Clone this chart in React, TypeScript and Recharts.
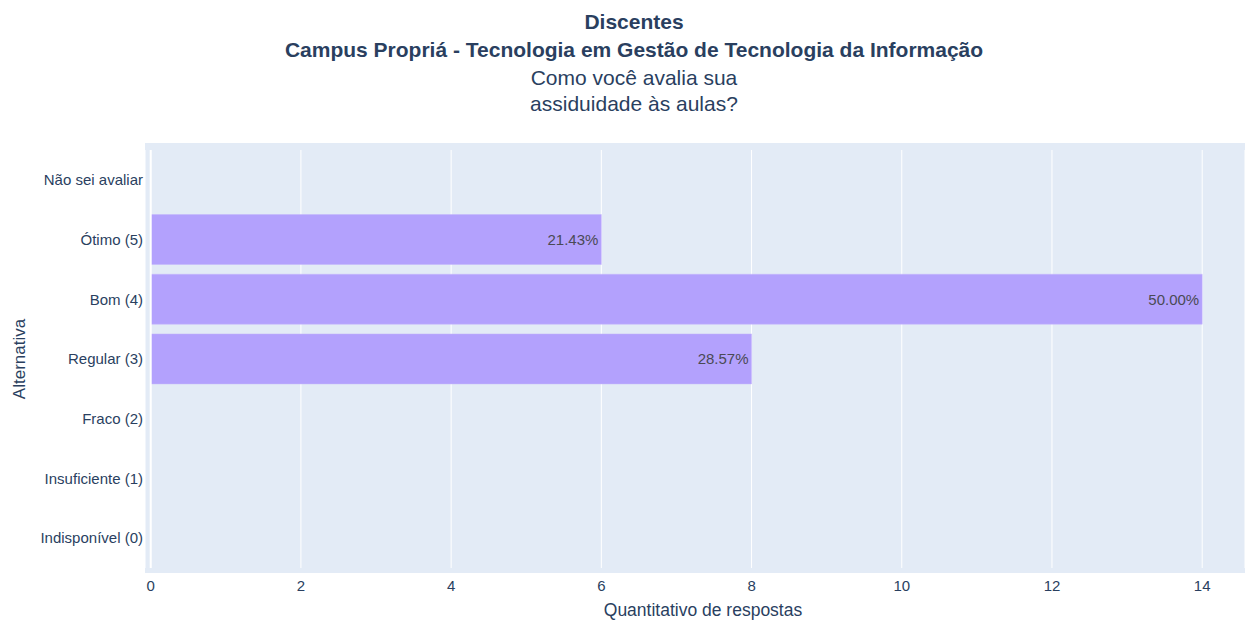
import React from "react";
import {
  BarChart,
  Bar,
  XAxis,
  YAxis,
  CartesianGrid,
  ReferenceLine,
  LabelList,
} from "recharts";

const categories = [
  "Não sei avaliar",
  "Ótimo (5)",
  "Bom (4)",
  "Regular (3)",
  "Fraco (2)",
  "Insuficiente (1)",
  "Indisponível (0)",
];
const counts = [0, 6, 14, 8, 0, 0, 0];
const xTicks = [0, 2, 4, 6, 8, 10, 12, 14];
const titleLines = [
  "Discentes",
  "Campus Propriá - Tecnologia em Gestão de Tecnologia da Informação",
];
const subtitleLines = ["Como você avalia sua", "assiduidade às aulas?"];

const FONT = '"Liberation Sans", Arial, sans-serif';
const TEXT = "#2a3f5f";
const BAR = "#b3a1fd";

const total = counts.reduce((a, b) => a + b, 0);
const data = categories.map((name, i) => ({
  name,
  value: counts[i],
  pct: counts[i] ? ((counts[i] / total) * 100).toFixed(2) + "%" : "",
}));

// zero bars are skipped by LabelList, so go by the value itself
function PctLabel(props: any) {
  const { x, y, width, height, value } = props;
  if (!value) return null;
  return (
    <text
      x={x + width - 3}
      y={y + height / 2}
      textAnchor="end"
      dominantBaseline="central"
      fontSize={15}
      fontFamily={FONT}
      fill="#4a4a55"
    >
      {value}
    </text>
  );
}

export default function App() {
  return (
    <div
      style={{
        position: "absolute",
        left: 0,
        top: 0,
        width: 1247,
        height: 622,
        background: "#fff",
        fontFamily: FONT,
        color: TEXT,
      }}
    >
      {/* plot background, a bit larger than the drawing area */}
      <div
        style={{
          position: "absolute",
          left: 145,
          top: 143,
          width: 1100,
          height: 430,
          background: "#e3ebf6",
        }}
      />
      {titleLines.map((t, i) => (
        <div
          key={t}
          style={{
            position: "absolute",
            left: 0,
            width: 1268,
            textAlign: "center",
            top: [9, 37][i],
            fontSize: 21,
            fontWeight: 700,
            lineHeight: "26px",
          }}
        >
          {t}
        </div>
      ))}
      {subtitleLines.map((t, i) => (
        <div
          key={t}
          style={{
            position: "absolute",
            left: 0,
            width: 1268,
            textAlign: "center",
            top: [65, 91][i],
            fontSize: 21,
            lineHeight: "26px",
          }}
        >
          {t}
        </div>
      ))}
      <div style={{ position: "absolute", left: 0, top: 0 }}>
        <BarChart
          width={1247}
          height={622}
          data={data}
          layout="vertical"
          margin={{ top: 150, right: 2, bottom: 0, left: 5 }}
          barCategoryGap="8%"
        >
          <CartesianGrid horizontal={false} stroke="#fff" strokeWidth={1} />
          <XAxis
            type="number"
            domain={[-0.076, 14.57]}
            ticks={xTicks}
            allowDataOverflow
            axisLine={false}
            tickLine={false}
            tickSize={0}
            tickMargin={12}
            height={54}
            tick={{ fontSize: 15, fill: TEXT, fontFamily: FONT }}
          />
          <YAxis
            type="category"
            dataKey="name"
            width={140}
            axisLine={false}
            tickLine={false}
            tickSize={0}
            tickMargin={2}
            interval={0}
            tick={{ fontSize: 15, fill: TEXT, fontFamily: FONT }}
          />
          <ReferenceLine x={0} stroke="#fff" strokeWidth={2} />
          <Bar
            dataKey="value"
            fill={BAR}
            stroke="#c4b6fd"
            strokeWidth={0.5}
            isAnimationActive={false}
          >
            <LabelList dataKey="pct" content={PctLabel} />
          </Bar>
        </BarChart>
      </div>
      <div
        style={{
          position: "absolute",
          left: 0,
          width: 1406,
          top: 599,
          textAlign: "center",
          fontSize: 17.5,
          lineHeight: "22px",
        }}
      >
        Quantitativo de respostas
      </div>
      <div
        style={{
          position: "absolute",
          left: 20,
          top: 359,
          transform: "translate(-50%, -50%) rotate(-90deg)",
          fontSize: 17,
          whiteSpace: "nowrap",
        }}
      >
        Alternativa
      </div>
    </div>
  );
}
